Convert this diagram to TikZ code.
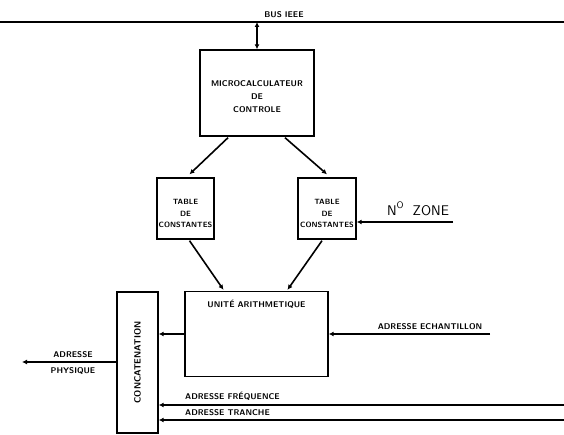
\documentclass[tikz,border=0pt]{standalone}
\usepackage{tikz}
\usetikzlibrary{arrows.meta, positioning, calc}

\begin{document}
\begin{tikzpicture}[
  x=1pt, y=-1pt,
  every node/.style={font=\fontsize{8.3}{10}\selectfont\bfseries\sffamily},
  bloc/.style={draw, line width=1.4pt, inner sep=1pt, align=center},
  texte/.style={align=center, inner sep=0pt},
  fleche/.style={line width=1.6pt, -{Latex[length=5pt,width=5pt]}},
  legende/.style={inner sep=1pt}
]
  \useasboundingbox (0,0) rectangle (564,435);

  % bus
  \coordinate (busg) at (0,22);
  \coordinate (busd) at (564,22);
  \coordinate (busp) at (257,22);
  \draw[line width=1.8pt] (busg) -- (busd);
  \node[legende, anchor=south] (buslbl) at (284,19) {BUS IEEE};

  % blocs
  \node[bloc, minimum width=114, minimum height=86,
    label={[texte, yshift=-4pt]center:MICROCALCULATEUR\\[3pt]DE\\[3pt]CONTROLE}] (micro) at (257,93) {};
  \node[bloc, minimum width=57, minimum height=61,
    label={[texte, yshift=-5pt, font=\fontsize{7.6}{9}\selectfont\bfseries\sffamily]center:TABLE\\[2.5pt]DE\\[2.5pt]CONSTANTES}] (tab1) at (185.5,208.5) {};
  \node[bloc, minimum width=58, minimum height=61,
    label={[texte, yshift=-5pt, font=\fontsize{7.6}{9}\selectfont\bfseries\sffamily]center:TABLE\\[2.5pt]DE\\[2.5pt]CONSTANTES}] (tab2) at (327,208.5) {};
  \node[bloc, minimum width=143, minimum height=85,
    label={[legende, anchor=north, yshift=-8pt]north:UNIT\'E ARITHMETIQUE}] (ua) at (256.5,334) {};
  \node[bloc, minimum width=41, minimum height=141] (concat) at (137.5,362.5) {};
  \node[legende, rotate=90, font=\fontsize{9}{10}\selectfont\bfseries\sffamily] (concatlbl) at (concat.center) {CONCATENATION};

  % liaisons
  \draw[line width=1.6pt, {Latex[length=5pt,width=5pt]}-{Latex[length=5pt,width=5pt]}]
    (busp) -- (micro.north);
  \draw[fleche] ($(micro.south)+(-29,1)$) -- ($(tab1.north)+(4,-3)$);
  \draw[fleche] ($(micro.south)+(28,1)$) -- ($(tab2.north)+(0,-3)$);
  \draw[fleche] ($(tab1.south)+(4,1)$) -- ($(ua.north)+(-33,-1)$);
  \draw[fleche] ($(tab2.south)+(-5,1)$) -- ($(ua.north)+(31,-1)$);

  \coordinate (zone) at (453,222);
  \draw[fleche] (zone) -- (zone -| tab2.east);
  \node[legende, font=\fontsize{14}{16}\selectfont\sffamily, anchor=south] (zonelbl) at (418,217)
    {N\raisebox{1.1ex}{\fontsize{9.5}{10}\selectfont O}\ \ ZONE};

  \draw[fleche] (ua.west) -- (ua.west -| concat.east);
  \coordinate (ech) at (490,334);
  \draw[fleche] (ech) -- (ech -| ua.east);
  \node[legende, anchor=south] (echlbl) at (430,331) {ADRESSE ECHANTILLON};

  \coordinate (phys) at (22,362);
  \draw[fleche] (phys -| concat.west) -- (phys);
  \node[legende, anchor=south] (physlbl1) at (73,359) {ADRESSE};
  \node[legende, anchor=north] (physlbl2) at (73,366) {PHYSIQUE};

  \coordinate (freq) at (564,405);
  \coordinate (tranche) at (564,420);
  \draw[fleche] (freq) -- (freq -| concat.east);
  \draw[fleche] (tranche) -- (tranche -| concat.east);
  \node[legende, anchor=south west] (freqlbl) at (184,402) {ADRESSE FR\'EQUENCE};
  \node[legende, anchor=south west] (tranchelbl) at (184,417) {ADRESSE TRANCHE};
\end{tikzpicture}
\end{document}
